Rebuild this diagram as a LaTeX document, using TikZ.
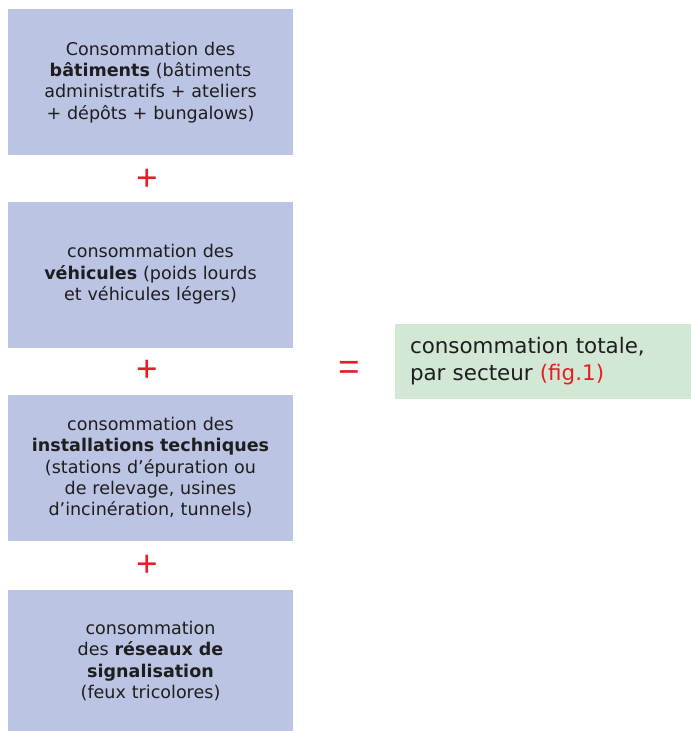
\documentclass[tikz,border=0pt]{standalone}
\usepackage{fontspec}
\setmainfont{DejaVu Sans}
\newfontfamily\signfont{Liberation Sans}
\definecolor{boxblue}{RGB}{188,196,228}
\definecolor{boxgreen}{RGB}{210,232,212}
\definecolor{signred}{RGB}{226,30,38}
\definecolor{txt}{RGB}{30,30,30}
\begin{document}
\begin{tikzpicture}[x=1bp,y=-1bp,
  termbox/.style={fill=boxblue,draw=none,minimum width=285bp,minimum height=146bp,
    text width=280bp,align=center,text=txt,inner sep=0pt,
    font=\fontsize{17.6}{21.5}\selectfont},
  totalbox/.style={fill=boxgreen,draw=none,minimum width=296bp,minimum height=75bp,
    text width=266bp,align=left,text=txt,inner sep=0pt,
    font=\fontsize{21.5}{27}\selectfont},
  sign/.style={text=signred,inner sep=0pt,font=\signfont\fontsize{37}{37}\selectfont}]
  \useasboundingbox (0,0) rectangle (691,731);
  % the four summed terms
  \node[termbox] (bat) at (150.5,82.3)
    {Consommation des\\\textbf{bâtiments} (bâtiments\\administratifs + ateliers\\+ dépôts + bungalows)};
  \node[termbox] (veh) at (150.5,274.5)
    {consommation des\\\textbf{véhicules} (poids lourds\\et véhicules légers)};
  \node[termbox] (inst) at (150.5,467.5)
    {consommation des\\\textbf{installations techniques}\\(stations d’épuration ou\\de relevage, usines\\d’incinération, tunnels)};
  \node[termbox,minimum height=142bp] (res) at (150.5,661)
    {consommation\\des \textbf{réseaux de}\\\textbf{signalisation}\\(feux tricolores)};
  % operators
  \node[sign] (p1) at (147,179.5) {+};
  \node[sign] (p2) at (147,371) {+};
  \node[sign] (p3) at (147,566) {+};
  \node[sign] (eq) at (349,370) {=};
  % result
  \node[totalbox] (tot) at (543,361.5)
    {consommation totale,\\par secteur \textcolor{signred}{(fig.1)}};
\end{tikzpicture}
\end{document}
